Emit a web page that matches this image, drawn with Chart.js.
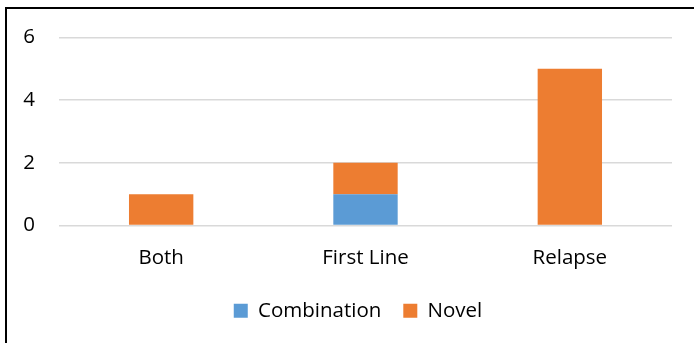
<!DOCTYPE html>
<html>
<head>
<meta charset="utf-8">
<script src="https://cdn.jsdelivr.net/npm/chart.js@4"></script>
<style>
  html, body { margin: 0; padding: 0; background: #fff; overflow: hidden; }
  #frame {
    position: absolute; left: 5px; top: 7px;
    width: 700px; height: 350px;
    border: 2px solid #000;
  }
  #wrap { position: absolute; left: 0; top: 1px; width: 694px; height: 342px; }
</style>
</head>
<body>
<div id="frame"></div>
<div id="wrap"><canvas id="barChart"></canvas></div>
<script>
const categories = ['Both', 'First Line', 'Relapse'];
const combination = [0, 1, 0];
const novel = [1, 1, 5];
const yTicks = [0, 2, 4, 6];

const font = { family: "'Open Sans', sans-serif", size: 20.5 };

// legend in the reference sits a little right of centre
const legendShift = {
    id: 'legendShift',
    afterLayout(chart) {
        chart.legend.left += 12;
        chart.legend.right += 12;
    }
};

const ctx = document.getElementById('barChart');
new Chart(ctx, {
    type: 'bar',
    data: {
        labels: categories,
        datasets: [
            { label: 'Combination', data: combination, backgroundColor: '#5B9BD5' },
            { label: 'Novel', data: novel, backgroundColor: '#ED7D31' }
        ]
    },
    plugins: [legendShift],
    options: {
        responsive: true,
        maintainAspectRatio: false,
        animation: { duration: 0 },
        layout: { padding: { top: 0, right: 22, bottom: 12, left: 20 } },
        datasets: { bar: { categoryPercentage: 0.63, barPercentage: 0.5 } },
        plugins: {
            legend: {
                position: 'bottom',
                labels: { font: font, color: '#000', boxWidth: 14, boxHeight: 14, padding: 22 }
            },
            tooltip: { enabled: false }
        },
        scales: {
            x: {
                stacked: true,
                grid: { display: false },
                border: { display: false },
                ticks: { font: font, color: '#000', padding: 12 },
                afterFit: axis => { axis.height = 53; }
            },
            y: {
                stacked: true,
                min: 0, max: 6,
                afterBuildTicks: axis => { axis.ticks = yTicks.map(v => ({ value: v })); },
                afterFit: axis => { axis.width = 39; },
                grid: { color: '#d9d9d9', lineWidth: 1.5, drawTicks: false },
                border: { display: false },
                ticks: { font: font, color: '#000', padding: 24 }
            }
        }
    }
});
</script>
</body>
</html>
